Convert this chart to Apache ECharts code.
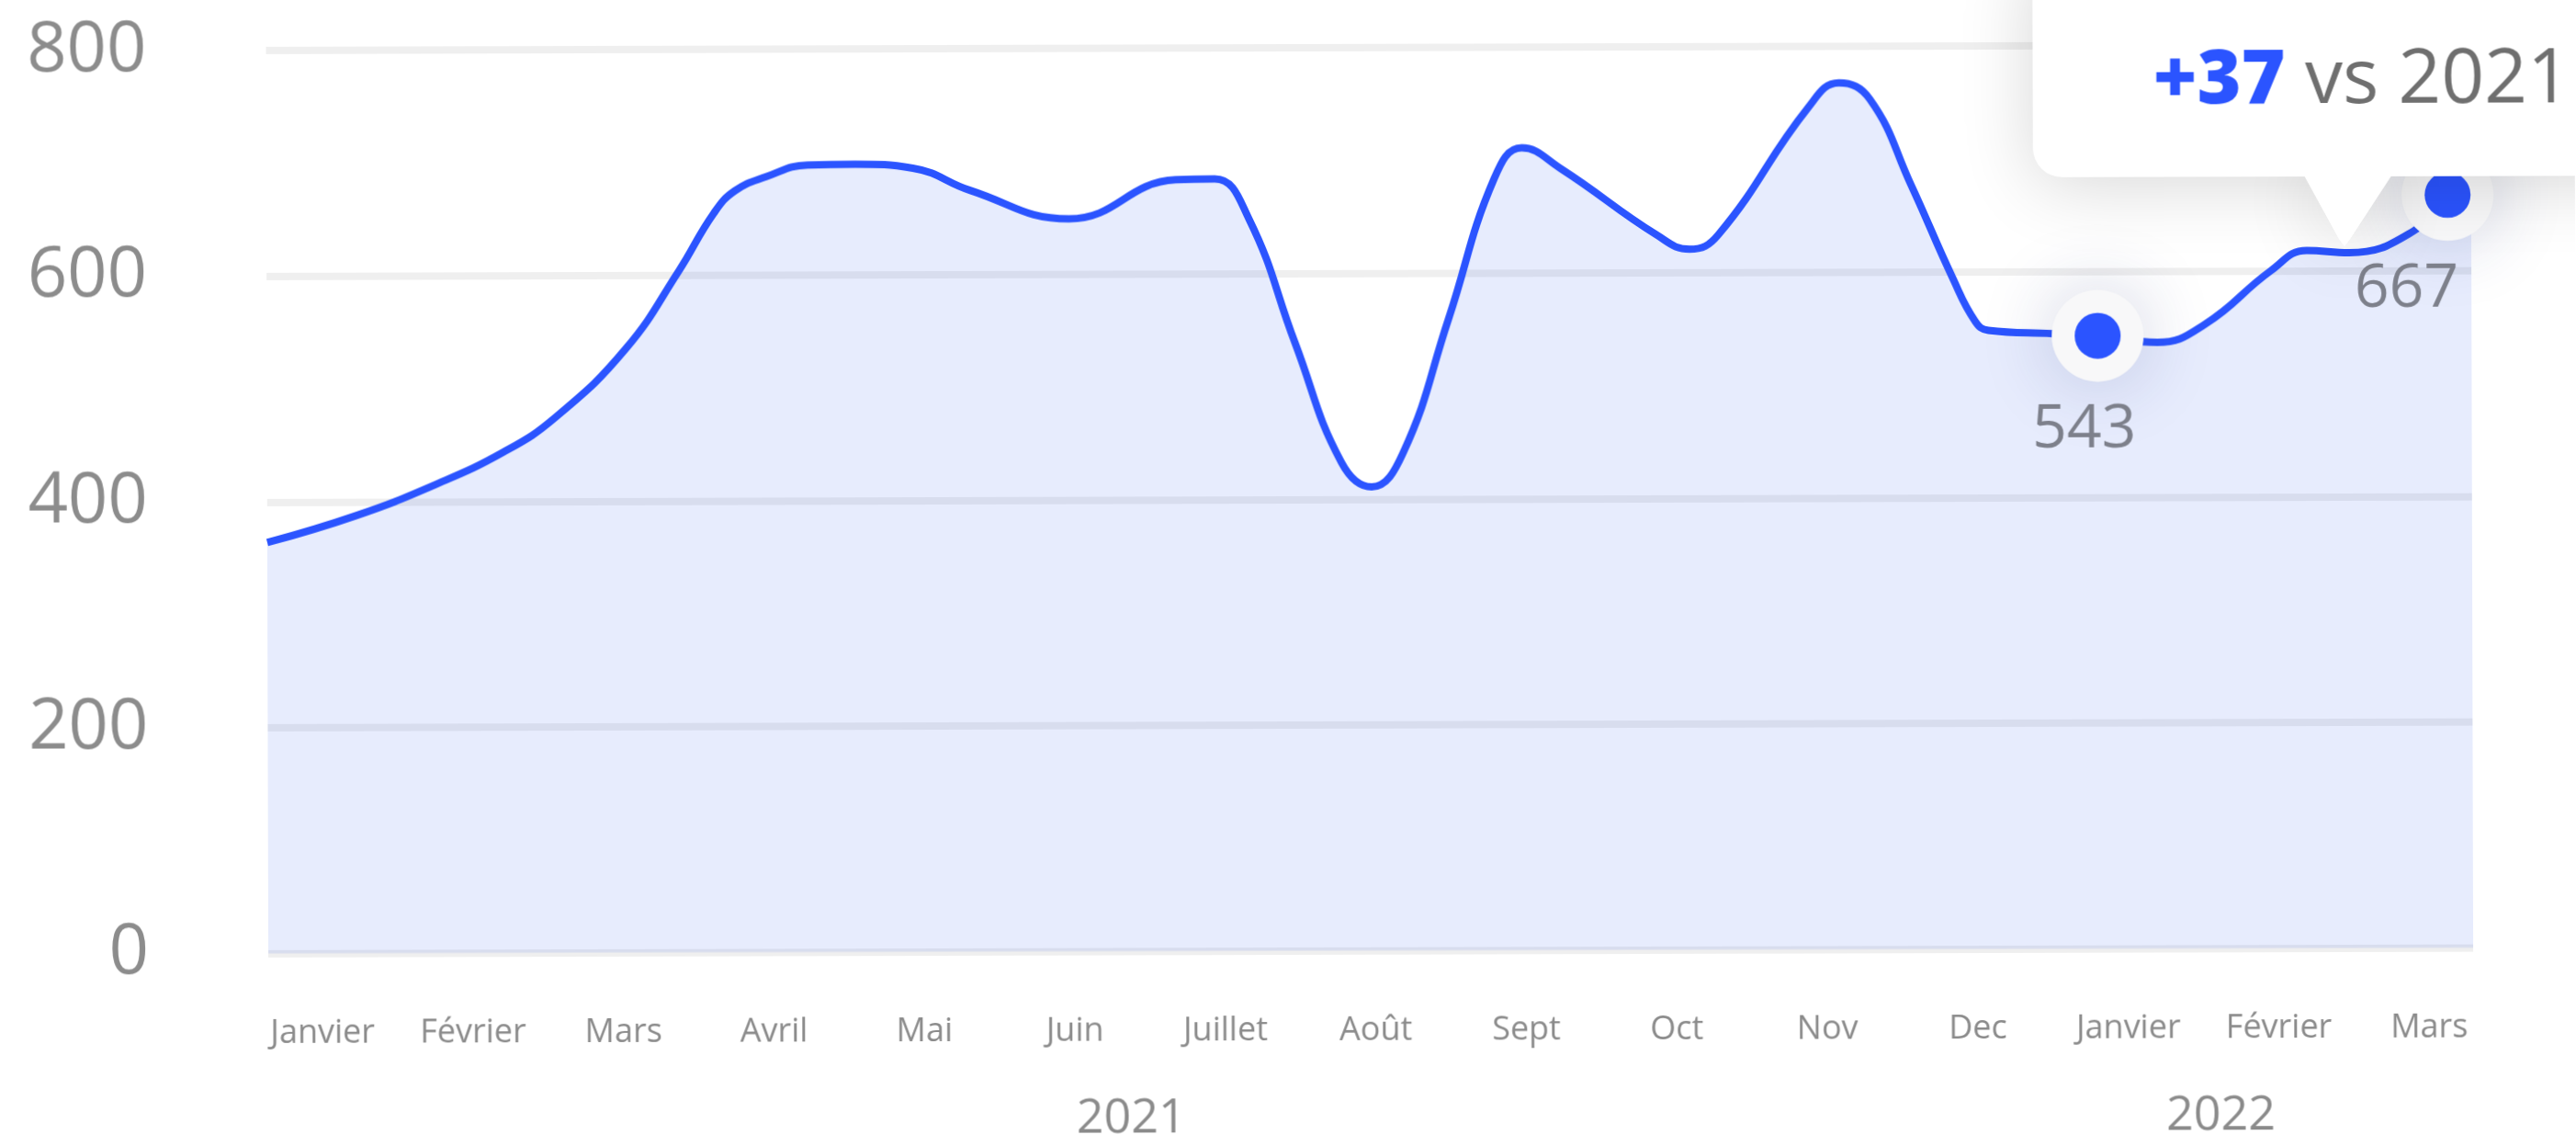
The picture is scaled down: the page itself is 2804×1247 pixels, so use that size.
<!DOCTYPE html>
<html>
<head>
<meta charset="utf-8">
<script src="https://cdn.jsdelivr.net/npm/echarts@6/dist/echarts.min.js"></script>
<style>
  html, body { margin: 0; padding: 0; background: #ffffff; overflow: hidden; }
  #chart { width: 2804px; height: 1247px; transform: rotate(-0.15deg); transform-origin: 50% 50%; }
</style>
</head>
<body>
<div id="chart"></div>
<script>
// Month tick labels (Jan 2021 .. Mar 2022)
const months = ['Janvier', 'Février', 'Mars', 'Avril', 'Mai', 'Juin', 'Juillet', 'Août',
  'Sept', 'Oct', 'Nov', 'Dec', 'Janvier', 'Février', 'Mars'];
// Year captions and where they sit along the month axis
const years = ['2021', '2022'];
const yearAt = [5.37, 12.61];
// Y axis ticks
const yTicks = [0, 200, 400, 600, 800];

// Sampled curve: position in months (0 = Janvier 2021) and value
const monthPos = [
  -0.360, 0.227, 0.741, 1.210, 1.559, 2.026, 2.377, 2.611, 2.752, 2.961,
  3.237, 3.554, 3.936, 4.318, 4.972, 5.681, 5.941, 6.167, 6.473, 6.778,
  6.978, 7.187, 7.492, 7.798, 7.981, 8.243, 8.876, 9.094, 9.285, 9.885,
  10.089, 10.294, 10.567, 10.840, 10.991, 11.078, 11.503, 11.804, 12.201, 12.518,
  12.954, 13.194, 13.477, 13.904, 14.131, 14.288];
const visits = [
  364, 387.5, 414, 443.5, 474.5, 535, 603.3, 654.5, 674.5, 687,
  697.3, 697.8, 694.2, 674.3, 648.9, 683.3, 684, 648.6, 538, 432.5,
  410.8, 440.6, 559.5, 683.8, 710.8, 692, 633.3, 620.6, 633.3, 745.9,
  767.6, 753.2, 677, 595, 556, 548, 545, 543, 537, 553,
  600, 618, 616, 635, 667, 680];
// Highlighted samples (indices into the curve)
const markedIdx = [37, 44];
// Callout text
const deltaText = '+37';
const compareText = 'vs 2021';

const FONT = '"Open Sans", "Noto Sans", sans-serif';
const BLUE = '#2B54FF';
const labelShift = [-15, -45];

const curve = monthPos.map((m, i) => [m, visits[i]]);
const marked = markedIdx.map((k, j) => ({
  value: [monthPos[k], visits[k]],
  label: { offset: [labelShift[j], 0] }
}));
const halos = markedIdx.map(k => [monthPos[k], visits[k]]);

const chart = echarts.init(document.getElementById('chart'), null, { renderer: 'canvas' });

chart.setOption({
  animation: false,
  backgroundColor: '#ffffff',
  grid: [
    { left: 291, right: 113, top: 52, bottom: 212.5 },
    { left: 268, right: 79, top: 1034, height: 1 }
  ],
  xAxis: [
    {
      type: 'value', gridIndex: 0,
      min: monthPos[0], max: monthPos[monthPos.length - 1],
      show: false, splitLine: { show: false }
    },
    {
      type: 'category', gridIndex: 1, data: months, boundaryGap: true,
      axisLine: { show: false }, axisTick: { show: false }, splitLine: { show: false },
      axisLabel: { color: '#8b8b8b', fontSize: 36, fontFamily: FONT, margin: 69, interval: 0 }
    }
  ],
  yAxis: [
    {
      type: 'value', gridIndex: 0, min: yTicks[0], max: yTicks[yTicks.length - 1], interval: 200,
      axisLine: { show: false }, axisTick: { show: false },
      axisLabel: { color: '#8c8c8c', fontSize: 76, fontFamily: FONT, margin: 130 },
      splitLine: { show: true, lineStyle: { color: 'rgba(0,0,0,0.063)', width: 8 } }
    },
    { type: 'value', gridIndex: 1, show: false }
  ],
  series: [
    {
      type: 'line', xAxisIndex: 0, yAxisIndex: 0,
      data: curve, smooth: 0.45, showSymbol: false,
      lineStyle: { color: BLUE, width: 8 },
      areaStyle: { color: 'rgba(40,82,240,0.11)', opacity: 1, origin: 'start' },
      z: 2
    },
    {
      type: 'scatter', xAxisIndex: 0, yAxisIndex: 0,
      data: halos, symbolSize: 100,
      itemStyle: { color: '#f8f8f9', opacity: 1, shadowBlur: 80, shadowColor: 'rgba(30,45,120,0.22)' },
      silent: true, z: 3
    },
    {
      type: 'scatter', xAxisIndex: 0, yAxisIndex: 0,
      data: marked, symbolSize: 50,
      itemStyle: { color: BLUE, opacity: 1 },
      label: {
        show: true, position: 'bottom', distance: 45,
        formatter: p => String(p.value[1]),
        fontSize: 66, color: '#7d808b', fontFamily: FONT
      },
      z: 4
    }
  ]
});

// Year captions under the month labels
const yearGraphics = years.map((y, i) => ({
  type: 'text',
  x: chart.convertToPixel({ xAxisIndex: 0 }, yearAt[i]),
  y: 1217,
  style: {
    text: y, fill: '#8b8b8b', fontSize: 52, fontFamily: FONT,
    align: 'center', verticalAlign: 'middle'
  }
}));

// Comparison callout: rounded card with a pointer
const pointer = [[2507, 190], [2607, 190], [2559, 263], [2553, 271], [2547, 263]];
const cardShadow = { shadowBlur: 80, shadowColor: 'rgba(0,0,0,0.16)', shadowOffsetY: 8 };

chart.setOption({
  graphic: [
    ...yearGraphics,
    {
      type: 'polygon', z: 99, shape: { points: pointer },
      style: Object.assign({ fill: '#ffffff' }, cardShadow)
    },
    {
      type: 'rect', z: 100, shape: { x: 2214, y: -60, width: 700, height: 255, r: 32 },
      style: Object.assign({ fill: '#ffffff' }, cardShadow)
    },
    {
      type: 'polygon', z: 101, shape: { points: pointer },
      style: { fill: '#ffffff' }
    },
    {
      type: 'text', z: 102, x: 2345, y: 92,
      style: {
        text: '{d|' + deltaText + '}{t| ' + compareText + '}',
        align: 'left', verticalAlign: 'middle',
        rich: {
          d: { fontSize: 82, fontWeight: 800, fill: BLUE, fontFamily: FONT },
          t: { fontSize: 82, fill: '#6f6f6f', fontFamily: FONT }
        }
      }
    }
  ]
});
</script>
</body>
</html>
